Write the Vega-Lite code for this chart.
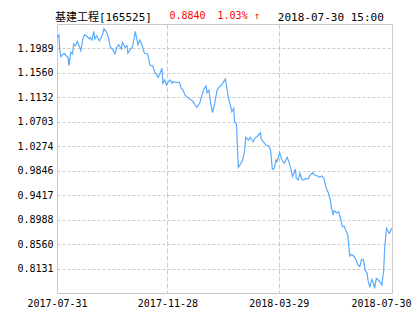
{
  "$schema": "https://vega.github.io/schema/vega-lite/v6.json",
  "width": 335,
  "height": 269,
  "autosize": {"type": "none"},
  "padding": {"left": 57, "top": 24, "right": 23, "bottom": 37},
  "background": "white",
  "title": {
    "text": "基建工程[165525]\u00a0\u00a0\u00a0\u00a0\u00a0\u00a0\u00a0\u00a0\u00a0\u00a0\u00a0\u00a0\u00a0\u00a0\u00a0\u00a0\u00a0\u00a0\u00a02018-07-30\u00a015:00",
    "subtitle": "\u200b\u00a0\u00a0\u00a0\u00a0\u00a0\u00a0\u00a0\u00a0\u00a0\u00a0\u00a0\u00a0\u00a0\u00a0\u00a0\u00a0\u00a0\u00a0\u00a00.8840\u00a0\u00a01.03%\u00a0↑",
    "anchor": "start",
    "frame": "group",
    "dx": -2,
    "offset": 0,
    "font": "DejaVu Sans Mono, Noto Sans CJK SC",
    "fontSize": 11,
    "fontWeight": "normal",
    "color": "#000000",
    "subtitleFont": "DejaVu Sans Mono",
    "subtitleFontSize": 10,
    "subtitleColor": "#ff0000",
    "subtitlePadding": -12
  },
  "config": {
    "view": {"stroke": "#c8c8c8", "strokeWidth": 1},
    "axis": {
      "labelFont": "DejaVu Sans Mono",
      "labelFontSize": 10,
      "labelColor": "#000000",
      "ticks": false,
      "domain": false,
      "grid": true,
      "gridColor": "#cccccc",
      "gridWidth": 1,
      "title": null
    }
  },
  "data": {
    "values": [
      {"d":"2017-07-31","v":1.2190},{"d":"2017-08-02","v":1.2225},{"d":"2017-08-03","v":1.1962},{"d":"2017-08-04","v":1.1845},
      {"d":"2017-08-06","v":1.1880},{"d":"2017-08-08","v":1.1904},{"d":"2017-08-10","v":1.1862},{"d":"2017-08-12","v":1.1834},
      {"d":"2017-08-13","v":1.1687},{"d":"2017-08-15","v":1.1922},{"d":"2017-08-17","v":1.1892},{"d":"2017-08-18","v":1.2067},
      {"d":"2017-08-20","v":1.2038},{"d":"2017-08-22","v":1.2115},{"d":"2017-08-24","v":1.2038},{"d":"2017-08-26","v":1.1950},
      {"d":"2017-08-28","v":1.2155},{"d":"2017-08-30","v":1.2230},{"d":"2017-09-02","v":1.2195},{"d":"2017-09-04","v":1.2155},
      {"d":"2017-09-05","v":1.2185},{"d":"2017-09-07","v":1.2138},{"d":"2017-09-09","v":1.2290},{"d":"2017-09-10","v":1.2155},
      {"d":"2017-09-12","v":1.2213},{"d":"2017-09-15","v":1.2125},{"d":"2017-09-18","v":1.2213},{"d":"2017-09-20","v":1.2336},
      {"d":"2017-09-23","v":1.2273},{"d":"2017-09-25","v":1.2173},{"d":"2017-09-27","v":1.2010},{"d":"2017-09-29","v":1.1980},
      {"d":"2017-10-02","v":1.1892},{"d":"2017-10-04","v":1.2010},{"d":"2017-10-06","v":1.2055},{"d":"2017-10-09","v":1.1980},
      {"d":"2017-10-10","v":1.2097},{"d":"2017-10-13","v":1.2010},{"d":"2017-10-15","v":1.2038},{"d":"2017-10-16","v":1.1904},
      {"d":"2017-10-19","v":1.1980},{"d":"2017-10-21","v":1.2010},{"d":"2017-10-23","v":1.2185},{"d":"2017-10-24","v":1.2290},
      {"d":"2017-10-27","v":1.2055},{"d":"2017-10-29","v":1.2138},{"d":"2017-10-31","v":1.2067},{"d":"2017-11-03","v":1.1904},
      {"d":"2017-11-06","v":1.1901},{"d":"2017-11-07","v":1.1857},{"d":"2017-11-09","v":1.1699},{"d":"2017-11-12","v":1.1682},
      {"d":"2017-11-14","v":1.1582},{"d":"2017-11-18","v":1.1484},{"d":"2017-11-20","v":1.1554},{"d":"2017-11-22","v":1.1642},
      {"d":"2017-11-23","v":1.1379},{"d":"2017-11-25","v":1.1436},{"d":"2017-11-27","v":1.1349},{"d":"2017-11-29","v":1.1407},
      {"d":"2017-12-01","v":1.1436},{"d":"2017-12-03","v":1.1379},{"d":"2017-12-04","v":1.1407},{"d":"2017-12-06","v":1.1396},
      {"d":"2017-12-11","v":1.1396},{"d":"2017-12-13","v":1.1291},{"d":"2017-12-15","v":1.1261},{"d":"2017-12-17","v":1.1174},
      {"d":"2017-12-19","v":1.1144},{"d":"2017-12-22","v":1.1098},{"d":"2017-12-24","v":1.1086},{"d":"2017-12-26","v":1.1056},
      {"d":"2017-12-28","v":1.0998},{"d":"2017-12-30","v":1.0958},{"d":"2018-01-02","v":1.1028},{"d":"2018-01-04","v":1.1144},
      {"d":"2018-01-07","v":1.1291},{"d":"2018-01-09","v":1.1331},{"d":"2018-01-10","v":1.1214},{"d":"2018-01-12","v":1.1261},
      {"d":"2018-01-14","v":1.1028},{"d":"2018-01-16","v":1.0863},{"d":"2018-01-18","v":1.0998},{"d":"2018-01-21","v":1.1261},
      {"d":"2018-01-23","v":1.1308},{"d":"2018-01-26","v":1.1349},{"d":"2018-01-28","v":1.1407},{"d":"2018-01-30","v":1.1454},
      {"d":"2018-02-02","v":1.1144},{"d":"2018-02-04","v":1.1016},{"d":"2018-02-06","v":1.0881},{"d":"2018-02-08","v":1.0940},
      {"d":"2018-02-09","v":1.0706},{"d":"2018-02-11","v":1.0665},{"d":"2018-02-13","v":0.9906},{"d":"2018-02-16","v":0.9976},
      {"d":"2018-02-18","v":1.0046},{"d":"2018-02-20","v":1.0209},{"d":"2018-02-21","v":1.0432},{"d":"2018-02-24","v":1.0385},
      {"d":"2018-02-26","v":1.0432},{"d":"2018-03-01","v":1.0355},{"d":"2018-03-03","v":1.0415},{"d":"2018-03-06","v":1.0455},
      {"d":"2018-03-09","v":1.0513},{"d":"2018-03-10","v":1.0397},{"d":"2018-03-12","v":1.0355},{"d":"2018-03-15","v":1.0297},
      {"d":"2018-03-18","v":1.0280},{"d":"2018-03-20","v":1.0209},{"d":"2018-03-22","v":0.9871},{"d":"2018-03-24","v":0.9889},
      {"d":"2018-03-26","v":1.0034},{"d":"2018-03-27","v":1.0004},{"d":"2018-03-30","v":1.0162},{"d":"2018-04-01","v":1.0046},
      {"d":"2018-04-04","v":0.9976},{"d":"2018-04-07","v":1.0082},{"d":"2018-04-09","v":1.0004},{"d":"2018-04-11","v":0.9889},
      {"d":"2018-04-13","v":0.9741},{"d":"2018-04-16","v":0.9871},{"d":"2018-04-17","v":0.9713},{"d":"2018-04-19","v":0.9684},
      {"d":"2018-04-21","v":0.9801},{"d":"2018-04-23","v":0.9696},{"d":"2018-04-25","v":0.9684},{"d":"2018-04-27","v":0.9713},
      {"d":"2018-04-30","v":0.9701},{"d":"2018-05-02","v":0.9771},{"d":"2018-05-05","v":0.9812},{"d":"2018-05-07","v":0.9771},
      {"d":"2018-05-10","v":0.9754},{"d":"2018-05-12","v":0.9731},{"d":"2018-05-15","v":0.9754},{"d":"2018-05-17","v":0.9713},
      {"d":"2018-05-19","v":0.9566},{"d":"2018-05-22","v":0.9451},{"d":"2018-05-24","v":0.9333},{"d":"2018-05-25","v":0.9210},
      {"d":"2018-05-27","v":0.9070},{"d":"2018-05-28","v":0.9146},{"d":"2018-05-31","v":0.9105},{"d":"2018-06-02","v":0.9128},
      {"d":"2018-06-04","v":0.9018},{"d":"2018-06-06","v":0.8865},{"d":"2018-06-08","v":0.8877},{"d":"2018-06-10","v":0.8795},
      {"d":"2018-06-12","v":0.8720},{"d":"2018-06-14","v":0.8352},{"d":"2018-06-16","v":0.8381},{"d":"2018-06-19","v":0.8339},
      {"d":"2018-06-21","v":0.8281},{"d":"2018-06-23","v":0.8194},{"d":"2018-06-25","v":0.8164},{"d":"2018-06-27","v":0.8294},
      {"d":"2018-06-29","v":0.8281},{"d":"2018-07-01","v":0.8094},{"d":"2018-07-03","v":0.8048},{"d":"2018-07-04","v":0.7919},
      {"d":"2018-07-06","v":0.7803},{"d":"2018-07-08","v":0.7943},{"d":"2018-07-10","v":0.7873},{"d":"2018-07-11","v":0.7785},
      {"d":"2018-07-13","v":0.7961},{"d":"2018-07-16","v":0.7919},{"d":"2018-07-19","v":0.7843},{"d":"2018-07-21","v":0.8106},
      {"d":"2018-07-22","v":0.8486},{"d":"2018-07-24","v":0.8837},{"d":"2018-07-26","v":0.8777},{"d":"2018-07-27","v":0.8749},
      {"d":"2018-07-30","v":0.8840}
    ]
  },
  "mark": {"type": "line", "color": "#5aabff", "strokeWidth": 1.2, "clip": true},
  "encoding": {
    "x": {
      "field": "d",
      "type": "temporal",
      "scale": {
        "type": "utc",
        "domain": [
          {"year": 2017, "month": 7, "date": 31, "utc": true},
          {"year": 2018, "month": 7, "date": 30, "utc": true}
        ]
      },
      "axis": {
        "values": [
          {"year": 2017, "month": 7, "date": 31, "utc": true},
          {"year": 2017, "month": 11, "date": 28, "utc": true},
          {"year": 2018, "month": 3, "date": 29, "utc": true},
          {"year": 2018, "month": 7, "date": 30, "utc": true}
        ],
        "format": "%Y-%m-%d",
        "labelPadding": 5,
        "labelFlush": false,
        "labelOverlap": false,
        "gridDash": [5, 2],
        "labelOffset": {"condition": {"test": "datum.value > utc(2018, 6, 1)", "value": -11}, "value": 0}
      }
    },
    "y": {
      "field": "v",
      "type": "quantitative",
      "scale": {"domain": [0.7703, 1.2418], "nice": false, "zero": false},
      "axis": {
        "values": [0.8131, 0.856, 0.8988, 0.9417, 0.9846, 1.0274, 1.0703, 1.1132, 1.156, 1.1989],
        "format": ".4f",
        "labelPadding": 4,
        "labelOverlap": false,
        "gridDash": [3, 2]
      }
    }
  }
}
